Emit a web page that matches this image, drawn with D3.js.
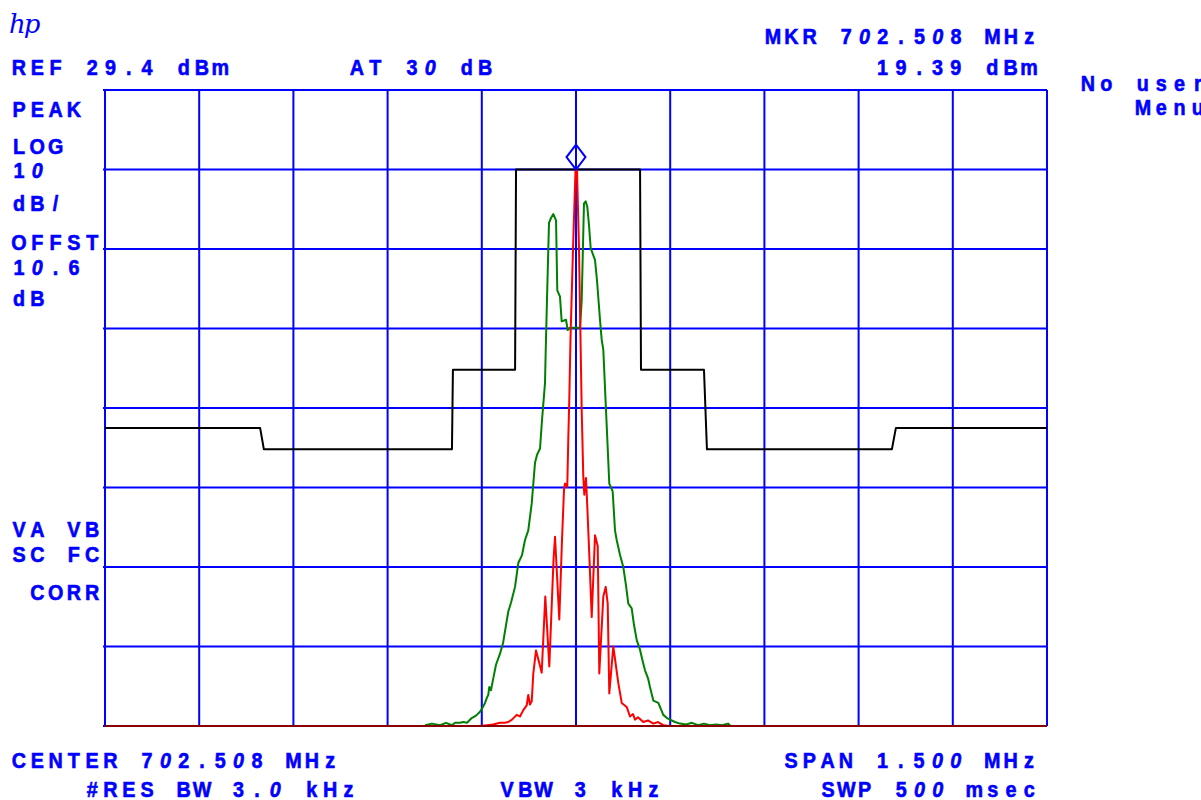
<!DOCTYPE html>
<html>
<head>
<meta charset="utf-8">
<script src="https://cdn.jsdelivr.net/npm/d3@7"></script>
<style>
  html, body { margin: 0; padding: 0; background: #ffffff; }
  svg { display: block; }
</style>
</head>
<body>
<script>
// ---------- DATA (frequency offset from centre in kHz, level in dBm) ----------
const centerMHz = 702.508;
const spanKHz = 1500;
const refLevel = 29.4;
const dbPerDiv = 10;

// black limit mask trace
const maskFreq  = [-750, -503, -497, -197.5, -196, -97, -95.5, 102, 103.5, 203.8, 208.5, 503, 509.4, 750];
const maskLevel = [-13.1, -13.1, -15.8, -15.8, -5.8, -5.8, 19.4, 19.4, -5.8, -5.8, -15.8, -15.8, -13.1, -13.1];

// green trace
const greenFreq = [-240.5, -229.3, -216.6, -207.0, -197.5, -192.7, -184.7, -179.5, -173.6, -166.1, -159.2, -152.9,
  -148.1, -144.9, -141.7, -139.7, -138.1, -135.4, -132.2, -127.4, -121.0, -116.2, -113.1, -107.8, -103.5, -97.1,
  -91.9, -86.0, -81.2, -76.0, -70.5, -65.3, -62.1, -57.3, -54.1, -49.4, -48.2, -46.2, -43.0, -39.8, -36.1, -31.8,
  -29.8, -25.5, -22.8, -19.1, -15.9, -13.2, -9.6, -1.6, 6.4, 9.1, 12.7, 15.4, 18.0, 20.7, 23.4, 30.3, 33.4, 38.2,
  40.9, 43.5, 47.8, 53.0, 58.4, 62.1, 64.8, 70.1, 75.3, 79.6, 83.3, 88.7, 92.4, 96.7, 101.9, 106.7, 109.9, 114.7,
  117.8, 123.1, 131.1, 139.0, 144.9, 149.7, 157.6, 165.6, 175.2, 184.7, 194.3, 203.8, 213.4, 222.9, 232.5, 242.0, 245.2];
const greenLevel = [-50.5, -50.3, -50.5, -50.2, -50.5, -50.2, -50.2, -50.1, -50.2, -49.6, -49.3, -48.8,
  -48.2, -47.7, -47.0, -46.7, -45.7, -46.1, -44.8, -42.9, -41.5, -40.2, -38.7, -36.2, -35.1, -33.1,
  -30.1, -29.1, -27.2, -26.0, -22.6, -17.5, -16.5, -15.7, -12.1, -7.5, -3.3, 3.0, 12.7, 13.3, 13.8, 13.0,
  4.2, 3.4, 0.3, 0.4, 0.5, -0.8, -0.5, -0.5, -0.5, 3.0, 15.1, 15.4, 14.7, 12.4, 9.5, 8.0, 5.5, 0.5,
  -2.0, -3.3, -10.9, -20.1, -21.1, -26.0, -27.2, -29.1, -30.6, -32.9, -35.2, -35.8, -37.9, -39.8, -41.0, -42.6, -43.6, -44.6,
  -45.7, -47.4, -47.7, -49.2, -49.6, -49.8, -50.1, -50.3, -50.4, -50.2, -50.5, -50.3, -50.5, -50.4, -50.5, -50.3, -50.5];

// red trace
const redFreq = [-750, -155.6, -142.2, -132.2, -121.0, -113.1, -107.8, -101.9, -94.4, -89.2, -83.9, -78.5, -76.0,
  -73.3, -70.5, -68.0, -63.7, -58.4, -54.6, -48.9, -42.5, -35.8, -33.4, -26.6, -22.3, -19.1, -17.5, -13.9, -12.3,
  -10.7, -8.8, -4.8, -0.8, 0, 1.6, 4.8, 7.2, 9.1, 11.6, 13.2, 15.9, 18.0, 21.5, 25.0, 30.3, 34.6, 37.1, 43.5, 47.3,
  50.5, 53.0, 59.4, 67.4, 72.8, 80.7, 86.0, 90.8, 94.0, 98.7, 107.2, 114.7, 123.1, 130.6, 139.0, 149.7, 750];
const redLevel = [-50.6, -50.6, -50.5, -50.4, -50.2, -50.2, -50.1, -49.8, -49.2, -49.4, -48.6, -48.0, -46.7,
  -47.9, -47.5, -44.0, -41.1, -42.7, -43.9, -34.3, -43.1, -29.7, -26.8, -37.2, -27.2, -20.9, -20.1, -20.5, -14.6,
  -9.6, -2.0, 9.3, 19.3, 19.39, 19.3, 9.3, -2.0, -10.9, -19.2, -21.5, -19.4, -23.0, -29.7, -36.9, -26.6, -28.0, -44.0, -34.3, -33.1,
  -35.2, -46.5, -40.6, -45.2, -47.7, -48.2, -49.4, -49.1, -49.8, -49.5, -50.1, -49.9, -50.3, -50.1, -50.5, -50.6, -50.6];

// marker
const markerFreq = 0;
const markerLevel = 19.39;

// annotation texts
const textTopLeft = ["REF 29.4 dBm", "AT 30 dB"];
const textMarker = ["MKR 702.508 MHz", "19.39 dBm"];
const textSide = ["PEAK", "LOG", "10", "dB/", "OFFST", "10.6", "dB", "VA VB", "SC FC", " CORR"];
const textMenu = ["No user", "   Menu"];
const textBottom = ["CENTER 702.508 MHz", "SPAN 1.500 MHz", "    #RES BW 3.0 kHz", "VBW 3 kHz", "SWP 500 msec"];

// ---------- CHART ----------
const W = 1201, H = 800;
const BLUE = "#0000ff";
const svg = d3.select("body").append("svg").attr("width", W).attr("height", H)
  .style("background", "#fff");

const plot = { left: 105, right: 1047, top: 90, bottom: 726 };
const x = d3.scaleLinear().domain([-spanKHz / 2, spanKHz / 2]).range([plot.left, plot.right]);
const bottomLevel = refLevel - 8 * dbPerDiv;
const y = d3.scaleLinear().domain([bottomLevel, refLevel]).range([plot.bottom, plot.top]).clamp(true);

const xTicks = d3.range(0, 11).map(i => -spanKHz / 2 + i * spanKHz / 10);
const yTicks = d3.range(0, 9).map(i => bottomLevel + i * dbPerDiv);

// grid
const grid = svg.append("g").attr("stroke", BLUE).attr("stroke-width", 2);
grid.selectAll("line.v").data(xTicks).join("line")
  .attr("x1", d => x(d)).attr("x2", d => x(d))
  .attr("y1", plot.top).attr("y2", plot.bottom);
grid.selectAll("line.h").data(yTicks).join("line")
  .attr("x1", plot.left - 2).attr("x2", plot.right)
  .attr("y1", d => y(d)).attr("y2", d => y(d));

const line = d3.line().x(d => x(d[0])).y(d => y(d[1])).curve(d3.curveLinear);

// black mask
svg.append("path").datum(d3.zip(maskFreq, maskLevel))
  .attr("d", line).attr("fill", "none").attr("stroke", "#000").attr("stroke-width", 2)
  .attr("stroke-linejoin", "round");

// green trace
svg.append("path").datum(d3.zip(greenFreq, greenLevel))
  .attr("d", line).attr("fill", "none").attr("stroke", "#008000").attr("stroke-width", 2)
  .attr("stroke-linejoin", "round");

// red trace
svg.append("path").datum(d3.zip(redFreq, redLevel))
  .attr("d", line).attr("fill", "none").attr("stroke", "#ff0000").attr("stroke-width", 2)
  .attr("stroke-linejoin", "round");

// bottom edge (trace at floor)
svg.append("line").attr("x1", plot.left).attr("x2", plot.right)
  .attr("y1", y(bottomLevel)).attr("y2", y(bottomLevel))
  .attr("stroke", "#8b0000").attr("stroke-width", 2);

// marker diamond
const mx = x(markerFreq), my = y(markerLevel);
svg.append("path")
  .attr("d", `M${mx},${my} L${mx - 9.5},${my - 12.5} L${mx},${my - 25} L${mx + 9.5},${my - 12.5} Z`)
  .attr("fill", "none").attr("stroke", BLUE).attr("stroke-width", 2);

// ---------- TEXT ----------
const PITCH = 18.3, SX = 0.92;
function label(str, cx0, baseline) {
  const t = svg.append("text")
    .attr("transform", `translate(0,${baseline}) scale(${SX},1)`)
    .attr("font-family", "'Liberation Sans', Arial, Helvetica, sans-serif")
    .attr("font-weight", "bold").attr("font-size", 21.5).attr("fill", BLUE)
    .attr("stroke", BLUE).attr("stroke-width", 0.6);
  [...str].forEach((ch, i) => {
    if (ch === " ") return;
    t.append("tspan").attr("x", (cx0 + i * PITCH) / SX).attr("y", 0)
      .attr("text-anchor", "middle")
      .attr("font-style", ch === "0" ? "italic" : null)
      .text(ch);
  });
}

// hp logo
svg.append("text").attr("x", 9).attr("y", 33)
  .attr("font-family", "'DejaVu Serif', serif").attr("font-style", "italic")
  .attr("font-size", 26).attr("fill", BLUE).attr("letter-spacing", -2).text("hp");

label(textMarker[0], 773, 44);
label(textTopLeft[0], 19, 75);
label(textTopLeft[1], 357, 75);
label(textMarker[1], 1029 - 8 * PITCH, 75);
label(textMenu[0], 1088, 91);
label(textMenu[1], 1088, 115);

const sideY = [117, 154, 178, 210.5, 250, 275, 306, 537, 562, 600];
textSide.forEach((s, i) => label(s, 19, sideY[i]));

label(textBottom[0], 19, 768);
label(textBottom[1], 791, 768);
label(textBottom[2], 19, 797);
label(textBottom[3], 507, 797);
label(textBottom[4], 828, 797);
</script>
</body>
</html>
